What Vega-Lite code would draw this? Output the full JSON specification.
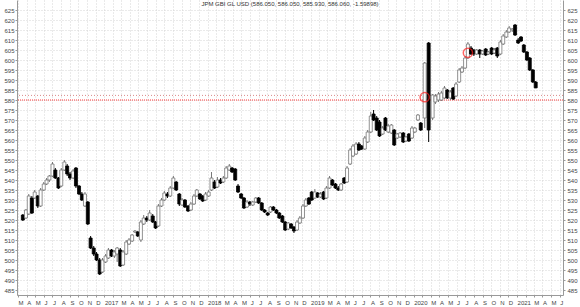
{
  "$schema": "https://vega.github.io/schema/vega-lite/v6.json",
  "width": 546,
  "height": 295,
  "autosize": "none",
  "padding": {"left": 17, "right": 17, "top": 0, "bottom": 12},
  "background": "white",
  "config": {
    "view": {"stroke": null},
    "font": "Liberation Sans",
    "axis": {"labelFont": "Liberation Sans", "labelFontSize": 6, "labelColor": "#444", "domainColor": "#999", "tickColor": "#999", "tickSize": 2, "title": null}
  },
  "title": {"text": "JPM GBI GL USD (586.050, 586.050, 585.930, 586.060, -1.59898)", "fontSize": 6, "fontWeight": "normal", "font": "Liberation Sans", "color": "#333", "anchor": "middle", "offset": -7},
  "datasets": {
    "candles": [
      {"d":"2016-03-18","o":522.5,"h":523,"l":519.5,"c":520},
      {"d":"2016-03-29","o":521,"h":525.5,"l":520.5,"c":525},
      {"d":"2016-04-08","o":523,"h":533,"l":522.5,"c":532},
      {"d":"2016-04-19","o":531,"h":532,"l":523,"c":523.5},
      {"d":"2016-04-29","o":531,"h":535,"l":530.5,"c":534},
      {"d":"2016-05-10","o":532,"h":532.5,"l":526,"c":527},
      {"d":"2016-05-20","o":527,"h":536,"l":526.5,"c":535},
      {"d":"2016-05-31","o":535,"h":539,"l":534.5,"c":538},
      {"d":"2016-06-10","o":538,"h":541,"l":537.5,"c":540},
      {"d":"2016-06-20","o":540,"h":542.5,"l":539,"c":542},
      {"d":"2016-07-01","o":542,"h":549,"l":541.5,"c":548},
      {"d":"2016-07-11","o":545,"h":546,"l":540.5,"c":541},
      {"d":"2016-07-22","o":541,"h":541.5,"l":535.5,"c":536},
      {"d":"2016-08-01","o":537,"h":546,"l":536.5,"c":545},
      {"d":"2016-08-12","o":545,"h":550,"l":544.5,"c":549},
      {"d":"2016-08-22","o":547,"h":548,"l":542,"c":543},
      {"d":"2016-09-01","o":543,"h":544,"l":540,"c":541},
      {"d":"2016-09-12","o":541,"h":545.5,"l":540.5,"c":544.5},
      {"d":"2016-09-22","o":546,"h":546.5,"l":536,"c":537},
      {"d":"2016-10-03","o":537,"h":537.5,"l":532.5,"c":533},
      {"d":"2016-10-13","o":533,"h":534,"l":529.5,"c":530},
      {"d":"2016-10-24","o":527,"h":534,"l":526.5,"c":533},
      {"d":"2016-11-03","o":529,"h":529.5,"l":517.5,"c":518},
      {"d":"2016-11-13","o":511,"h":512,"l":505.5,"c":506},
      {"d":"2016-11-24","o":506,"h":507,"l":502,"c":503},
      {"d":"2016-12-04","o":503,"h":504,"l":499.5,"c":500},
      {"d":"2016-12-15","o":500,"h":501,"l":492.5,"c":493},
      {"d":"2016-12-25","o":494,"h":501,"l":493.5,"c":500},
      {"d":"2017-01-05","o":499,"h":503,"l":498.5,"c":502},
      {"d":"2017-01-15","o":501,"h":506,"l":500.5,"c":505},
      {"d":"2017-01-26","o":505,"h":505.5,"l":501.5,"c":502},
      {"d":"2017-02-05","o":502,"h":505,"l":501,"c":504},
      {"d":"2017-02-15","o":503,"h":506.5,"l":499,"c":506},
      {"d":"2017-02-26","o":505,"h":506,"l":496.5,"c":497},
      {"d":"2017-03-08","o":497.5,"h":505,"l":497,"c":504},
      {"d":"2017-03-19","o":503,"h":510,"l":502.5,"c":509},
      {"d":"2017-03-29","o":508,"h":511,"l":507.5,"c":510},
      {"d":"2017-04-09","o":509.5,"h":513,"l":509,"c":512.5},
      {"d":"2017-04-19","o":514,"h":515,"l":513.5,"c":514.5},
      {"d":"2017-04-29","o":514,"h":514.5,"l":511.5,"c":512},
      {"d":"2017-05-10","o":510,"h":520,"l":509,"c":519},
      {"d":"2017-05-20","o":518,"h":522.5,"l":517.5,"c":521},
      {"d":"2017-05-31","o":521,"h":522,"l":519,"c":520},
      {"d":"2017-06-10","o":520,"h":525,"l":519.5,"c":523.5},
      {"d":"2017-06-21","o":522,"h":523,"l":518.5,"c":519},
      {"d":"2017-07-01","o":519,"h":519.5,"l":515.5,"c":516},
      {"d":"2017-07-11","o":517,"h":528,"l":516.5,"c":527},
      {"d":"2017-07-22","o":527,"h":531,"l":526.5,"c":530},
      {"d":"2017-08-01","o":530,"h":534.5,"l":529.5,"c":533.5},
      {"d":"2017-08-12","o":533,"h":534,"l":531,"c":532},
      {"d":"2017-08-22","o":532,"h":537,"l":531.5,"c":536},
      {"d":"2017-09-02","o":536,"h":542,"l":535.5,"c":541},
      {"d":"2017-09-12","o":539,"h":539.5,"l":534.5,"c":535},
      {"d":"2017-09-23","o":533,"h":533.5,"l":527,"c":528},
      {"d":"2017-10-03","o":527.5,"h":531,"l":527,"c":530},
      {"d":"2017-10-13","o":530,"h":530.5,"l":526,"c":526.5},
      {"d":"2017-10-24","o":527,"h":527.5,"l":524,"c":524.5},
      {"d":"2017-11-03","o":525,"h":529,"l":524.5,"c":528},
      {"d":"2017-11-14","o":528,"h":533,"l":527.5,"c":532},
      {"d":"2017-11-24","o":532,"h":535.5,"l":531.5,"c":535},
      {"d":"2017-12-05","o":533,"h":533.5,"l":530,"c":530.5},
      {"d":"2017-12-15","o":532,"h":532.5,"l":529,"c":529.5},
      {"d":"2017-12-25","o":530,"h":534,"l":529.5,"c":533},
      {"d":"2018-01-05","o":532,"h":535,"l":531.5,"c":534},
      {"d":"2018-01-15","o":535,"h":544,"l":534.5,"c":541},
      {"d":"2018-01-26","o":539,"h":540,"l":535.5,"c":536},
      {"d":"2018-02-05","o":536.5,"h":541.5,"l":536,"c":540},
      {"d":"2018-02-16","o":540,"h":541,"l":538,"c":538.5},
      {"d":"2018-02-26","o":539,"h":542,"l":538.5,"c":541},
      {"d":"2018-03-08","o":541,"h":547,"l":540.5,"c":546},
      {"d":"2018-03-19","o":545,"h":548,"l":544.5,"c":547},
      {"d":"2018-03-29","o":546,"h":546.5,"l":543.5,"c":544},
      {"d":"2018-04-09","o":545.5,"h":546,"l":539.5,"c":540},
      {"d":"2018-04-19","o":537,"h":538,"l":533.5,"c":534},
      {"d":"2018-04-30","o":533,"h":533.5,"l":530.5,"c":531},
      {"d":"2018-05-10","o":531,"h":531.5,"l":525.5,"c":526},
      {"d":"2018-05-21","o":526.5,"h":530,"l":526,"c":529},
      {"d":"2018-05-31","o":529,"h":529.5,"l":527,"c":528},
      {"d":"2018-06-10","o":527.5,"h":529.5,"l":527,"c":529},
      {"d":"2018-06-21","o":529,"h":531.5,"l":528.5,"c":531},
      {"d":"2018-07-01","o":531,"h":531.5,"l":528,"c":528.5},
      {"d":"2018-07-12","o":528.5,"h":529,"l":524.5,"c":525},
      {"d":"2018-07-22","o":525,"h":525.5,"l":523.5,"c":524},
      {"d":"2018-08-02","o":523.5,"h":524,"l":522,"c":522.5},
      {"d":"2018-08-12","o":524,"h":527,"l":523.5,"c":526.5},
      {"d":"2018-08-22","o":526.5,"h":527,"l":524.5,"c":525},
      {"d":"2018-09-02","o":525,"h":525.5,"l":523,"c":523.5},
      {"d":"2018-09-12","o":523.5,"h":524,"l":520.5,"c":521},
      {"d":"2018-09-23","o":522,"h":522.5,"l":518.5,"c":519},
      {"d":"2018-10-03","o":519,"h":519.5,"l":514.5,"c":515},
      {"d":"2018-10-14","o":515.5,"h":519,"l":515,"c":518.5},
      {"d":"2018-10-24","o":518,"h":518.5,"l":515.5,"c":516},
      {"d":"2018-11-03","o":516.5,"h":517,"l":513.5,"c":514.5},
      {"d":"2018-11-14","o":515,"h":520,"l":514.5,"c":519},
      {"d":"2018-11-24","o":518.5,"h":522,"l":518,"c":521},
      {"d":"2018-12-05","o":521,"h":528,"l":520.5,"c":527},
      {"d":"2018-12-15","o":527,"h":531,"l":526.5,"c":530},
      {"d":"2018-12-26","o":531,"h":531.5,"l":527.5,"c":528},
      {"d":"2019-01-05","o":534,"h":534.5,"l":529.5,"c":530},
      {"d":"2019-01-16","o":531,"h":535.5,"l":530.5,"c":534},
      {"d":"2019-01-26","o":533.5,"h":534,"l":531,"c":531.5},
      {"d":"2019-02-05","o":531.5,"h":534,"l":531,"c":533},
      {"d":"2019-02-16","o":534,"h":534.5,"l":530,"c":530.5},
      {"d":"2019-02-26","o":531,"h":537,"l":530.5,"c":536},
      {"d":"2019-03-09","o":536,"h":542,"l":535.5,"c":541},
      {"d":"2019-03-19","o":540,"h":540.5,"l":537,"c":537.5},
      {"d":"2019-03-30","o":538,"h":538.5,"l":535.5,"c":536},
      {"d":"2019-04-09","o":536,"h":537,"l":534.5,"c":535},
      {"d":"2019-04-19","o":535,"h":538.5,"l":534.5,"c":538},
      {"d":"2019-04-30","o":541,"h":541.5,"l":538,"c":538.5},
      {"d":"2019-05-10","o":539,"h":547,"l":538.5,"c":546},
      {"d":"2019-05-21","o":548,"h":556,"l":547.5,"c":555},
      {"d":"2019-05-31","o":552,"h":558,"l":551.5,"c":557},
      {"d":"2019-06-11","o":553,"h":559,"l":552.5,"c":558},
      {"d":"2019-06-21","o":558,"h":559,"l":554.5,"c":555},
      {"d":"2019-07-01","o":557,"h":557.5,"l":555,"c":555.5},
      {"d":"2019-07-12","o":555.5,"h":562,"l":555,"c":561},
      {"d":"2019-07-22","o":559,"h":565,"l":558.5,"c":564},
      {"d":"2019-08-02","o":564,"h":574,"l":563.5,"c":572},
      {"d":"2019-08-12","o":573,"h":575,"l":569.5,"c":570},
      {"d":"2019-08-23","o":571,"h":572,"l":564.5,"c":565},
      {"d":"2019-09-02","o":569,"h":570,"l":561.5,"c":562},
      {"d":"2019-09-13","o":563,"h":567,"l":562.5,"c":566},
      {"d":"2019-09-23","o":571,"h":571.5,"l":564.5,"c":565},
      {"d":"2019-10-03","o":564,"h":568,"l":563.5,"c":567},
      {"d":"2019-10-14","o":563.5,"h":568,"l":563,"c":567.5},
      {"d":"2019-10-24","o":565,"h":565.5,"l":557,"c":557.5},
      {"d":"2019-11-04","o":561,"h":563.5,"l":560.5,"c":563},
      {"d":"2019-11-14","o":561.5,"h":564,"l":561,"c":563.5},
      {"d":"2019-11-25","o":563.5,"h":564,"l":558.5,"c":559},
      {"d":"2019-12-05","o":559.5,"h":562,"l":559,"c":561.5},
      {"d":"2019-12-15","o":563,"h":563.5,"l":559,"c":559.5},
      {"d":"2019-12-26","o":561,"h":567,"l":560.5,"c":566},
      {"d":"2020-01-05","o":564,"h":566.5,"l":563.5,"c":566},
      {"d":"2020-01-16","o":570,"h":573,"l":569.5,"c":572.5},
      {"d":"2020-01-26","o":568.5,"h":569,"l":564.5,"c":565},
      {"d":"2020-02-09","o":571,"h":599,"l":566,"c":598.5},
      {"d":"2020-02-23","o":608.5,"h":609,"l":559,"c":565},
      {"d":"2020-03-08","o":571,"h":583,"l":570,"c":582.5},
      {"d":"2020-03-18","o":579,"h":583,"l":578,"c":582},
      {"d":"2020-03-29","o":580,"h":584,"l":579,"c":583},
      {"d":"2020-04-08","o":580,"h":584.5,"l":579.5,"c":583.5},
      {"d":"2020-04-19","o":581,"h":587,"l":580.5,"c":586},
      {"d":"2020-04-29","o":585,"h":585.5,"l":580.5,"c":581},
      {"d":"2020-05-10","o":581,"h":585,"l":580,"c":584},
      {"d":"2020-05-20","o":586,"h":586.5,"l":580,"c":580.5},
      {"d":"2020-05-30","o":582,"h":589,"l":581.5,"c":588},
      {"d":"2020-06-10","o":589,"h":596,"l":588.5,"c":595},
      {"d":"2020-06-20","o":594,"h":597,"l":593.5,"c":596},
      {"d":"2020-07-01","o":596,"h":602,"l":595.5,"c":601},
      {"d":"2020-07-11","o":601,"h":609,"l":600.5,"c":608},
      {"d":"2020-07-22","o":606,"h":607,"l":602.5,"c":603},
      {"d":"2020-08-01","o":605,"h":605.5,"l":602,"c":603},
      {"d":"2020-08-11","o":603,"h":605.5,"l":602.5,"c":605},
      {"d":"2020-08-22","o":605,"h":605.5,"l":601,"c":603},
      {"d":"2020-09-01","o":603,"h":605,"l":602.5,"c":604.5},
      {"d":"2020-09-12","o":605.5,"h":606,"l":602,"c":602.5},
      {"d":"2020-09-22","o":603,"h":604.5,"l":602.5,"c":604},
      {"d":"2020-10-03","o":606,"h":606.5,"l":602.5,"c":603},
      {"d":"2020-10-13","o":603.5,"h":606,"l":603,"c":605},
      {"d":"2020-10-23","o":606,"h":606.5,"l":601,"c":602},
      {"d":"2020-11-03","o":603,"h":610,"l":602.5,"c":609},
      {"d":"2020-11-13","o":608,"h":613,"l":607.5,"c":612},
      {"d":"2020-11-24","o":611.5,"h":615,"l":611,"c":614},
      {"d":"2020-12-04","o":614,"h":617,"l":613.5,"c":616},
      {"d":"2020-12-15","o":615,"h":616,"l":614,"c":615.5},
      {"d":"2020-12-25","o":617.5,"h":618,"l":612,"c":612.5},
      {"d":"2021-01-05","o":610,"h":611,"l":608,"c":608.5},
      {"d":"2021-01-15","o":611.5,"h":612,"l":609,"c":609.5},
      {"d":"2021-01-25","o":607.5,"h":608,"l":603.5,"c":604},
      {"d":"2021-02-05","o":604,"h":604.5,"l":599.5,"c":600},
      {"d":"2021-02-15","o":601,"h":601.5,"l":594.5,"c":595},
      {"d":"2021-02-26","o":595,"h":595.5,"l":588.5,"c":589},
      {"d":"2021-03-08","o":589,"h":589.5,"l":585.93,"c":586.06}
    ],
    "marks": [
      {"d":"2020-02-09","p":581.4},
      {"d":"2020-07-11","p":603.6}
    ]
  },
  "encoding": {
    "x": {
      "field": "d", "type": "temporal",
      "scale": {"domain": [{"year": 2016, "month": 3, "date": 15}, {"year": 2021, "month": 5, "date": 26}]},
      "axis": {
        "tickCount": {"interval": "month", "step": 1},
        "labelExpr": "month(datum.value) == 0 ? timeFormat(datum.value, '%Y') : (month(datum.value) == 1 ? '' : substring(timeFormat(datum.value, '%b'), 0, 1))",
        "labelAlign": "left", "labelOverlap": false, "labelFlush": false, "labelPadding": 2,
        "grid": true, "gridColor": "#d4d4d4", "gridDash": [1, 2], "gridWidth": 1
      }
    }
  },
  "resolve": {"axis": {"y": "independent"}},
  "layer": [
    {
      "data": {"values": [{}]},
      "mark": {"type": "rule", "color": "#d98a8a", "strokeDash": [1, 2], "strokeWidth": 1},
      "encoding": {"x": null, "y": {"datum": 582.3, "type": "quantitative", "scale": {"domain": [482.5, 630]}, "axis": null}}
    },
    {
      "data": {"values": [{}]},
      "mark": {"type": "rule", "color": "#ff3b3b", "strokeDash": [1, 1], "strokeWidth": 1},
      "encoding": {"x": null, "y": {"datum": 580, "type": "quantitative", "axis": null}}
    },
    {
      "data": {"name": "candles"},
      "mark": {"type": "rule", "strokeWidth": 1},
      "encoding": {
        "y": {"field": "l", "type": "quantitative", "scale": {"domain": [482.5, 630], "zero": false, "nice": false},
          "axis": {"orient": "left", "values": [485,490,495,500,505,510,515,520,525,530,535,540,545,550,555,560,565,570,575,580,585,590,595,600,605,610,615,620,625], "grid": true, "gridColor": "#d4d4d4", "gridDash": [1, 2], "labelPadding": 1}},
        "y2": {"field": "h"},
        "stroke": {"condition": {"test": "datum.c >= datum.o", "value": "#777777"}, "value": "#000000"}
      }
    },
    {
      "data": {"name": "candles"},
      "mark": {"type": "bar", "size": 3, "orient": "vertical", "strokeWidth": 0.8},
      "encoding": {
        "y": {"field": "o", "type": "quantitative",
          "axis": {"orient": "right", "values": [485,490,495,500,505,510,515,520,525,530,535,540,545,550,555,560,565,570,575,580,585,590,595,600,605,610,615,620,625], "grid": false, "labelPadding": 2}},
        "y2": {"field": "c"},
        "fill": {"condition": {"test": "datum.c >= datum.o", "value": "#ffffff"}, "value": "#000000"},
        "stroke": {"condition": {"test": "datum.c >= datum.o", "value": "#777777"}, "value": "#000000"}
      }
    },
    {
      "data": {"name": "marks"},
      "mark": {"type": "point", "shape": "circle", "filled": false, "size": 85, "strokeWidth": 1.5, "color": "#ff2020"},
      "encoding": {
        "y": {"field": "p", "type": "quantitative", "axis": null}
      }
    }
  ]
}
